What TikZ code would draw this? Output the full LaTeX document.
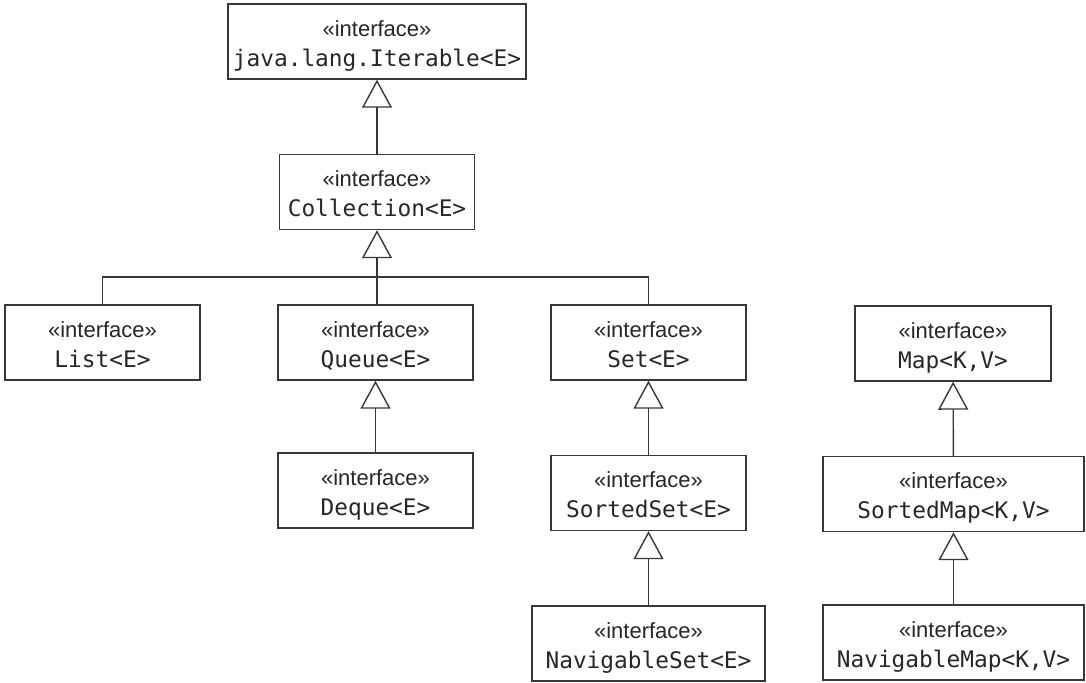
\documentclass[tikz,border=0pt]{standalone}
\usepackage{fontspec}
\setsansfont{Liberation Sans}
\setmonofont{DejaVu Sans Mono}
\usetikzlibrary{arrows.meta}
\colorlet{lineGray}{black!78}
\newcommand{\iface}[1]{\rule{0pt}{12pt}{\sffamily\fontsize{11}{15}\selectfont «interface»}\\{\ttfamily\fontsize{11.4}{15}\selectfont #1}\rule[-2.5pt]{0pt}{2.5pt}}

\begin{document}
\begin{tikzpicture}[x=0.5pt,y=-0.5pt,
    ifaceBox/.style={draw=lineGray,line width=0.7pt,align=center,inner sep=0pt,minimum height=37.5pt,text=black!85,font=\fontsize{11}{15}\selectfont},
    extends/.style={draw=lineGray,line width=0.7pt,-{Triangle[open,length=14pt,width=15pt]}},
    link/.style={draw=lineGray,line width=0.7pt}]
    \useasboundingbox (0,0) rectangle (1086,682);
    % collection branch
    \node[ifaceBox,minimum width=149pt] (iterable) at (377,41.5){\iface{java.lang.Iterable<E>}};
    \node[ifaceBox,minimum width=97.5pt] (collection) at (377,192){\iface{Collection<E>}};
    \node[ifaceBox,minimum width=97.5pt] (list) at (102.5,342.5){\iface{List<E>}};
    \node[ifaceBox,minimum width=97.5pt] (queue) at (375.5,342.5){\iface{Queue<E>}};
    \node[ifaceBox,minimum width=97.5pt] (set) at (648.5,342.5){\iface{Set<E>}};
    \node[ifaceBox,minimum width=97.5pt] (deque) at (375.5,490.5){\iface{Deque<E>}};
    \node[ifaceBox,minimum width=97.5pt] (sortedSet) at (648.5,493){\iface{SortedSet<E>}};
    \node[ifaceBox,minimum width=116.5pt] (navigableSet) at (648.5,643.5){\iface{NavigableSet<E>}};
    % map branch
    \node[ifaceBox,minimum width=98pt] (map) at (953,343.5){\iface{Map<K,V>}};
    \node[ifaceBox,minimum width=130.5pt] (sortedMap) at (953.5,494){\iface{SortedMap<K,V>}};
    \node[ifaceBox,minimum width=130.5pt] (navigableMap) at (953.5,642.5){\iface{NavigableMap<K,V>}};
    \coordinate (fork) at (377,277);
    \draw[extends] (collection) -- (iterable);
    \draw[link] (list.north) |- (fork) -| (set.north);
    \draw[link] (queue.north -| fork) -- (fork);
    \draw[extends] (fork) -- (collection);
    \draw[extends] (deque) -- (queue);
    \draw[extends] (sortedSet) -- (set);
    \draw[extends] (navigableSet) -- (sortedSet);
    \draw[extends] (sortedMap) -- (map);
    \draw[extends] (navigableMap) -- (sortedMap);
\end{tikzpicture}
\end{document}
